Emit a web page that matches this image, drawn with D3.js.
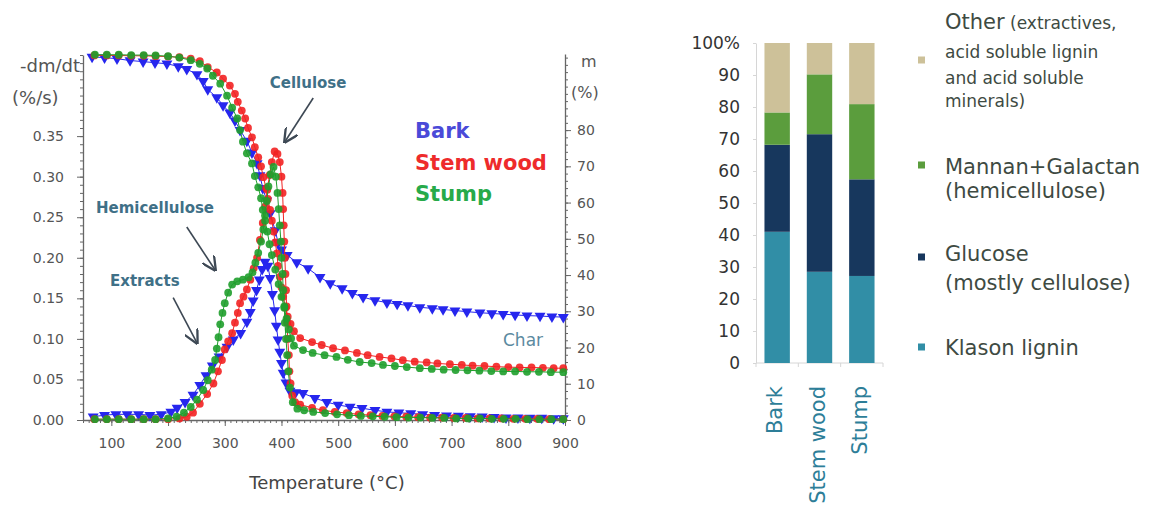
<!DOCTYPE html>
<html>
<head>
<meta charset="utf-8">
<script src="https://cdn.jsdelivr.net/npm/d3@7"></script>
<style>
  body { margin: 0; background: #fff; }
  svg { display: block; }
</style>
</head>
<body>
<svg id="chart" width="1155" height="519"></svg>
<script>
// ---- TGA data: [temperature °C, value] ----
const barkTG = [[66,100.2],[88,100],[110,99.7],[133,99.2],[156,98.9],[177,98.6],[198,98.3],[218,97.6],[233,96.8],[251,95.4],[262,93.5],[270,91.2],[286,89],[297,86.8],[309,84.8],[318,82.6],[327,80],[339,77],[348,73.8],[357,70.8],[362,67.5],[367,64],[374,60.5],[380,57],[389,52.3],[394,49],[400,47],[410,45.5],[427,43.5],[447,41.8],[468,39.4],[486,37.7],[507,36.3],[525,35],[544,33.9],[565,33],[586,32.4],[604,32],[623,31.6],[644,31.1],[666,30.8],[685,30.5],[706,30.2],[727,29.9],[750,29.6],[771,29.4],[791,29.2],[812,29],[833,28.8],[856,28.7],[877,28.5],[897,28.4]];
const stemTG = [[70,100.6],[92,100.6],[113,100.6],[135,100.5],[157,100.5],[178,100.4],[200,100.3],[220,100.1],[240,99.7],[256,99],[270,97.4],[286,95.9],[297,94.2],[309,92.3],[318,90],[323,87.8],[330,85.4],[336,83.2],[341,80.6],[348,78],[353,75.3],[359,72.5],[364,70],[368,67],[373,64],[376,61],[380,58],[383,55],[386,52],[389,49],[392,46],[394,42.5],[397,39.5],[400,36.6],[403,34],[407,31],[411,28.5],[416,26.5],[422,24.5],[433,22.6],[454,21.5],[471,20.7],[491,19.8],[512,19.2],[533,18.5],[552,17.9],[573,17.4],[594,17],[614,16.5],[635,16.1],[656,15.9],[675,15.6],[697,15.4],[718,15.2],[737,15],[758,14.9],[779,14.7],[800,14.6],[820,14.5],[841,14.5],[861,14.4],[880,14.3],[897,14.3]];
const stumpTG = [[71,100.8],[92,100.8],[113,100.8],[135,100.7],[157,100.7],[178,100.6],[200,100.4],[220,100],[240,99.3],[256,98.3],[269,97],[279,95],[292,92.8],[304,89.5],[313,86.2],[322,83.2],[327,80],[332,76.8],[339,73.6],[348,70.8],[353,67.3],[359,64.2],[364,61.2],[367,58],[371,55],[375,52],[379,48.5],[383,45.5],[389,41.5],[395,37.5],[400,34],[405,31],[409,28],[413,25],[417,22.5],[422,20.5],[438,19.3],[455,18.5],[476,17.9],[497,17.4],[517,16.6],[538,16],[559,15.7],[579,15.2],[600,14.9],[621,14.6],[644,14.3],[665,14.1],[686,13.9],[707,13.8],[728,13.7],[749,13.6],[770,13.5],[791,13.4],[812,13.4],[833,13.3],[854,13.3],[875,13.2],[897,13.2]];

const barkDTG = [[68,0.004],[88,0.006],[108,0.007],[128,0.007],[148,0.007],[168,0.006],[188,0.007],[205,0.01],[216,0.015],[230,0.022],[244,0.031],[256,0.043],[267,0.055],[278,0.067],[290,0.078],[304,0.09],[315,0.099],[328,0.107],[339,0.121],[345,0.133],[350,0.147],[356,0.16],[361,0.173],[366,0.186],[371,0.195],[376,0.19],[380,0.175],[384,0.155],[388,0.135],[391,0.116],[394,0.099],[397,0.084],[400,0.07],[403,0.058],[408,0.046],[415,0.036],[425,0.034],[438,0.033],[459,0.027],[480,0.022],[500,0.0185],[521,0.016],[542,0.0145],[565,0.012],[586,0.01],[607,0.009],[628,0.008],[649,0.007],[670,0.006],[691,0.0055],[712,0.005],[733,0.0045],[754,0.004],[775,0.0035],[796,0.003],[817,0.003],[838,0.0025],[859,0.0025],[880,0.002],[897,0.002]];
const stemDTG = [[70,0.001],[92,0.001],[113,0.001],[135,0.001],[157,0.001],[178,0.001],[200,0.001],[220,0.002],[233,0.004],[244,0.009],[256,0.02],[269,0.032],[280,0.045],[288,0.06],[295,0.074],[300,0.087],[306,0.097],[313,0.107],[318,0.12],[323,0.132],[327,0.144],[333,0.152],[339,0.161],[345,0.173],[351,0.187],[357,0.2],[362,0.222],[367,0.243],[371,0.263],[375,0.284],[379,0.302],[383,0.318],[388,0.331],[393,0.328],[397,0.318],[400,0.3],[402,0.28],[403,0.26],[404,0.24],[405,0.22],[406,0.2],[407,0.18],[408,0.16],[409,0.14],[410,0.12],[411,0.1],[413,0.08],[414,0.06],[416,0.045],[419,0.03],[424,0.022],[433,0.019],[454,0.015],[473,0.012],[494,0.01],[515,0.0085],[536,0.007],[557,0.006],[578,0.005],[599,0.0045],[620,0.004],[641,0.0035],[662,0.003],[683,0.003],[704,0.0025],[725,0.0025],[746,0.002],[767,0.002],[788,0.002],[809,0.0015],[830,0.0015],[851,0.0015],[872,0.001],[897,0.001]];
const stumpDTG = [[71,0.001],[92,0.001],[113,0.001],[135,0.001],[157,0.001],[178,0.001],[200,0.002],[215,0.004],[228,0.009],[240,0.016],[251,0.025],[262,0.037],[270,0.049],[277,0.062],[283,0.074],[286,0.088],[289,0.102],[292,0.118],[296,0.132],[300,0.144],[306,0.157],[313,0.167],[322,0.171],[332,0.173],[342,0.176],[349,0.182],[354,0.194],[359,0.206],[364,0.22],[368,0.235],[371,0.252],[374,0.27],[377,0.288],[381,0.303],[386,0.312],[390,0.3],[393,0.28],[395,0.26],[397,0.24],[399,0.22],[400,0.2],[402,0.18],[403,0.16],[405,0.14],[406,0.12],[408,0.1],[410,0.08],[412,0.06],[415,0.04],[420,0.022],[428,0.014],[440,0.012],[456,0.01],[477,0.0085],[498,0.007],[519,0.006],[540,0.005],[561,0.0045],[582,0.004],[603,0.0035],[624,0.003],[645,0.003],[666,0.0025],[687,0.0025],[708,0.002],[729,0.002],[750,0.002],[771,0.0015],[792,0.0015],[813,0.0015],[834,0.001],[855,0.001],[876,0.001],[897,0.001]];

const tempTicks = [100,200,300,400,500,600,700,800,900];
const dtgTicks = [0,0.05,0.10,0.15,0.20,0.25,0.30,0.35];
const massTicks = [0,10,20,30,40,50,60,70,80];

// annotations in data coordinates [T, -dm/dt]
const annotations = [
  {text: "Cellulose",     at: [447,0.417], from: [456,0.397], to: [406,0.343]},
  {text: "Hemicellulose", at: [177,0.262], from: [233,0.238], to: [283,0.185]},
  {text: "Extracts",      at: [159,0.173], from: [209,0.151], to: [251,0.095]}
];

// ---- composition data (%) ----
const samples = ["Bark", "Stem wood", "Stump"];
const klasonLignin = [41, 28.5, 27.2];
const glucose = [27.2, 43, 30.2];
const mannanGalactan = [10.1, 18.7, 23.5];
const other = [21.7, 9.8, 19.1];
const compTicks = d3.range(0, 101, 10);

const svg = d3.select("#chart");
const font = "DejaVu Sans";

// =============== left chart ===============
const x = d3.scaleLinear().domain([50, 900]).range([83, 565]);
const yL = d3.scaleLinear().domain([0, 0.45]).range([420, 55]);
const yR = d3.scaleLinear().domain([0, 101]).range([420, 54]);

const axisColor = "#666";

function styleAxis(g) {
  g.select(".domain").attr("stroke", axisColor).attr("stroke-width", 1.3);
  g.selectAll(".tick line").attr("stroke", axisColor);
  g.selectAll(".tick text")
    .attr("fill", "#555")
    .style("font-family", font)
    .style("font-size", "14px");
}

// minor ticks
svg.append("g")
  .attr("transform", "translate(0,420)")
  .call(d3.axisBottom(x).tickValues(d3.range(50, 901, 10)).tickSize(3).tickFormat(""))
  .call(g => { g.select(".domain").remove(); g.selectAll("line").attr("stroke", axisColor); });
svg.append("g")
  .attr("transform", "translate(83,0)")
  .call(d3.axisLeft(yL).tickValues(d3.range(0, 0.451, 0.01)).tickSize(3).tickFormat(""))
  .call(g => { g.select(".domain").remove(); g.selectAll("line").attr("stroke", axisColor); });
svg.append("g")
  .attr("transform", "translate(565,0)")
  .call(d3.axisRight(yR).tickValues(d3.range(0, 101, 2)).tickSize(3).tickFormat(""))
  .call(g => { g.select(".domain").remove(); g.selectAll("line").attr("stroke", axisColor); });

// major axes
svg.append("g")
  .attr("transform", "translate(0,420)")
  .call(d3.axisBottom(x).tickValues(tempTicks).tickSize(6).tickSizeOuter(0).tickPadding(12))
  .call(styleAxis);
svg.append("g")
  .attr("transform", "translate(83,0)")
  .call(d3.axisLeft(yL).tickValues(dtgTicks).tickFormat(d3.format(".2f")).tickSize(6).tickSizeOuter(0).tickPadding(13))
  .call(styleAxis);
svg.append("g")
  .attr("transform", "translate(565,0)")
  .call(d3.axisRight(yR).tickValues(massTicks).tickSize(6).tickSizeOuter(0).tickPadding(6))
  .call(styleAxis);

// axis titles
const titleStyle = t => t.attr("fill", "#555").style("font-family", font).style("font-size", "18px");
svg.append("text").attr("x", 80).attr("y", 72).attr("text-anchor", "end").text("-dm/dt").call(titleStyle);
svg.append("text").attr("x", 12).attr("y", 104).text("(%/s)").call(titleStyle);
svg.append("text").attr("x", 581).attr("y", 67).text("m").call(titleStyle).style("font-size", "16px");
svg.append("text").attr("x", 571).attr("y", 98).text("(%)").call(titleStyle).style("font-size", "16px");
svg.append("text").attr("x", 327).attr("y", 489).attr("text-anchor", "middle")
  .attr("fill", "#444").style("font-family", font).style("font-size", "18px")
  .text("Temperature (°C)");

// series
const series = [
  {name: "Bark", tg: barkTG, dtg: barkDTG, color: "#2626ee", shape: "triangle"},
  {name: "Stem wood", tg: stemTG, dtg: stemDTG, color: "#f22222", shape: "circle"},
  {name: "Stump", tg: stumpTG, dtg: stumpDTG, color: "#1f9e2c", shape: "circle"}
];

const tgLine = d3.line().x(d => x(d[0])).y(d => yR(d[1]));
const dtgLine = d3.line().x(d => x(d[0])).y(d => yL(d[1]));
const tri = d3.symbol().type(d3.symbolTriangle).size(52);

series.forEach(s => {
  const g = svg.append("g");
  [[s.tg, tgLine, d => yR(d[1])], [s.dtg, dtgLine, d => yL(d[1])]].forEach(([data, line, yf]) => {
    g.append("path")
      .datum(data)
      .attr("d", line)
      .attr("fill", "none")
      .attr("stroke", s.color)
      .attr("stroke-width", 1);
    if (s.shape === "circle") {
      g.selectAll(null)
        .data(data)
        .enter()
        .append("circle")
        .attr("cx", d => x(d[0]))
        .attr("cy", yf)
        .attr("r", 3.9)
        .attr("fill", s.color)
        .attr("fill-opacity", 0.9);
    } else {
      g.selectAll(null)
        .data(data)
        .enter()
        .append("path")
        .attr("d", tri)
        .attr("transform", d => `translate(${x(d[0])},${yf(d)}) rotate(180)`)
        .attr("fill", s.color);
    }
  });
});

// legend of the left chart
const legendColors = ["#4a4ad8", "#ee2b2b", "#27aa4a"];
series.forEach((s, i) => {
  svg.append("text")
    .attr("x", 415)
    .attr("y", 138 + i * 31.5)
    .attr("fill", legendColors[i])
    .style("font-family", font)
    .style("font-weight", "bold")
    .style("font-size", "21px")
    .text(s.name);
});

// annotations
svg.append("defs").append("marker")
  .attr("id", "arrow")
  .attr("viewBox", "0 0 10 10")
  .attr("refX", 9).attr("refY", 5)
  .attr("markerWidth", 9).attr("markerHeight", 9)
  .attr("orient", "auto")
  .append("path")
  .attr("d", "M0,0 L10,5 L0,10")
  .attr("fill", "none")
  .attr("stroke", "#3d4854")
  .attr("stroke-width", 1.6);

annotations.forEach(a => {
  svg.append("text")
    .attr("x", x(a.at[0]))
    .attr("y", yL(a.at[1]) + 6)
    .attr("text-anchor", "middle")
    .attr("fill", "#3f7087")
    .style("font-family", font)
    .style("font-weight", "bold")
    .style("font-size", "15px")
    .text(a.text);
  svg.append("line")
    .attr("x1", x(a.from[0])).attr("y1", yL(a.from[1]))
    .attr("x2", x(a.to[0])).attr("y2", yL(a.to[1]))
    .attr("stroke", "#3d4854")
    .attr("stroke-width", 1.6)
    .attr("marker-end", "url(#arrow)");
});

svg.append("text")
  .attr("x", x(826))
  .attr("y", yL(0.099) + 6)
  .attr("text-anchor", "middle")
  .attr("fill", "#5b8aa0")
  .style("font-family", font)
  .style("font-size", "17px")
  .text("Char");

// =============== right chart (composition) ===============
const comp = samples.map((name, i) => ({
  name: name,
  klason: klasonLignin[i],
  glucose: glucose[i],
  mannan: mannanGalactan[i],
  other: other[i]
}));
const keys = ["klason", "glucose", "mannan", "other"];
const compColors = {klason: "#318ea6", glucose: "#17375d", mannan: "#5b9d3d", other: "#cdc199"};

const stacked = d3.stack().keys(keys)(comp);

const xb = d3.scaleBand().domain(samples).range([756, 883]).paddingInner(0.4).paddingOuter(0.2);
const yb = d3.scaleLinear().domain([0, 100]).range([363, 43]);

svg.append("g")
  .attr("transform", "translate(756,0)")
  .call(d3.axisLeft(yb).tickValues(compTicks).tickSize(3).tickSizeOuter(0).tickPadding(13)
    .tickFormat(d => d === 100 ? "100%" : d))
  .call(g => {
    g.select(".domain").attr("stroke", "#d6d6d6");
    g.selectAll(".tick line").attr("stroke", "#d6d6d6");
    g.selectAll(".tick text").attr("fill", "#333").style("font-family", font).style("font-size", "17px");
  });

// baseline with ticks at category boundaries
const bounds = samples.map(c => xb(c) - xb.step() * xb.paddingInner() / 2).concat([xb.range()[1]]);
svg.append("line")
  .attr("x1", xb.range()[0]).attr("x2", xb.range()[1])
  .attr("y1", yb(0)).attr("y2", yb(0))
  .attr("stroke", "#d6d6d6");
svg.selectAll(null)
  .data(bounds)
  .enter()
  .append("line")
  .attr("x1", d => d).attr("x2", d => d)
  .attr("y1", yb(0)).attr("y2", yb(0) + 4)
  .attr("stroke", "#d6d6d6");

svg.append("g")
  .selectAll("g")
  .data(stacked)
  .enter()
  .append("g")
  .attr("fill", d => compColors[d.key])
  .selectAll("rect")
  .data(d => d)
  .enter()
  .append("rect")
  .attr("x", d => xb(d.data.name))
  .attr("y", d => yb(d[1]))
  .attr("width", xb.bandwidth())
  .attr("height", d => yb(d[0]) - yb(d[1]));

svg.selectAll(null)
  .data(samples)
  .enter()
  .append("text")
  .attr("transform", d => `translate(${xb(d) + xb.bandwidth() / 2 + 5},386) rotate(-90)`)
  .attr("text-anchor", "end")
  .attr("fill", "#2d7e98")
  .style("font-family", font)
  .style("font-size", "21px")
  .text(d => d);

// legend of composition chart
const legendItems = [
  {key: "other", boxY: 60, lines: [
    {y: 29, parts: [["Other", 21], [" (extractives,", 17]]},
    {y: 58, parts: [["acid soluble lignin", 17]]},
    {y: 84, parts: [["and acid soluble", 17]]},
    {y: 107, parts: [["minerals)", 17]]}
  ]},
  {key: "mannan", boxY: 165, lines: [
    {y: 174, parts: [["Mannan+Galactan", 21]]},
    {y: 198, parts: [["(hemicellulose)", 21]]}
  ]},
  {key: "glucose", boxY: 257, lines: [
    {y: 261, parts: [["Glucose", 21]]},
    {y: 290, parts: [["(mostly cellulose)", 21]]}
  ]},
  {key: "klason", boxY: 347, lines: [
    {y: 355, parts: [["Klason lignin", 21]]}
  ]}
];

legendItems.forEach(item => {
  svg.append("rect")
    .attr("x", 918)
    .attr("y", item.boxY - 3.5)
    .attr("width", 7)
    .attr("height", 7)
    .attr("fill", compColors[item.key]);
  item.lines.forEach(line => {
    const t = svg.append("text")
      .attr("x", 945)
      .attr("y", line.y)
      .attr("fill", "#3e4a42")
      .style("font-family", font);
    line.parts.forEach(p => {
      t.append("tspan").style("font-size", p[1] + "px").text(p[0]);
    });
  });
});
</script>
</body>
</html>
